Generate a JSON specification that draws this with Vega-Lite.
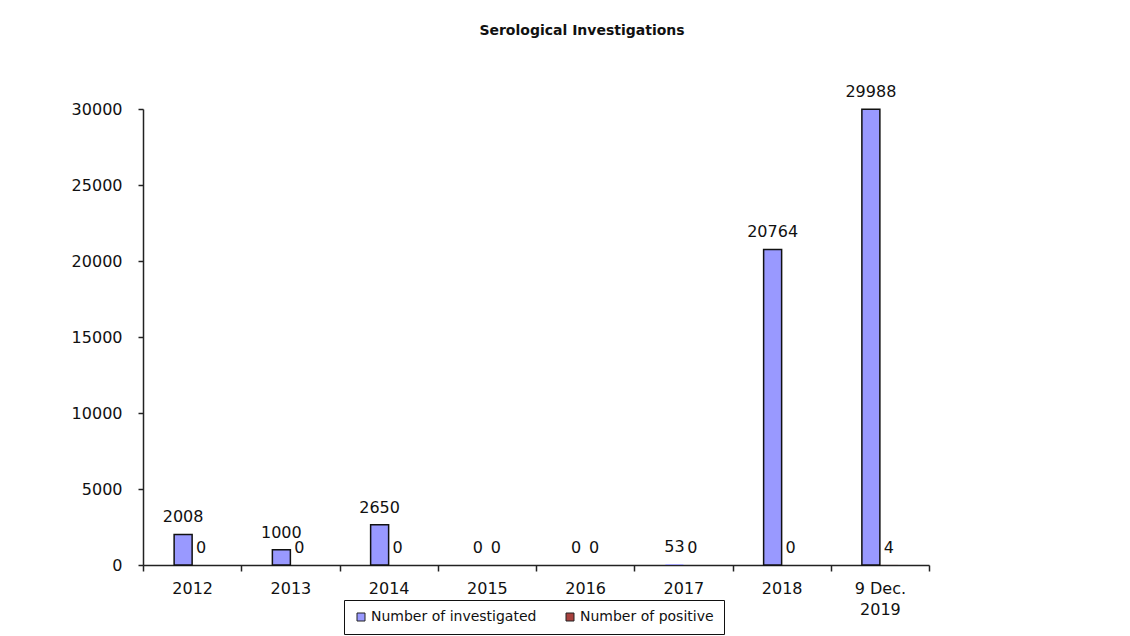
{
  "$schema": "https://vega.github.io/schema/vega-lite/v6.json",
  "autosize": {"type": "none"},
  "padding": {"left": 143, "top": 109, "right": 201, "bottom": 71},
  "width": 786,
  "height": 456,
  "background": "white",
  "config": {"view": {"stroke": null}},
  "title": {
    "text": "Serological Investigations",
    "font": "DejaVu Sans",
    "fontSize": 14,
    "fontWeight": "bold",
    "color": "#111111",
    "anchor": "middle",
    "frame": "group",
    "dx": 46,
    "offset": 46
  },
  "data": {
    "values": [
      {"period": "2012", "series": "Number of investigated", "value": 2008},
      {"period": "2012", "series": "Number of positive", "value": 0},
      {"period": "2013", "series": "Number of investigated", "value": 1000},
      {"period": "2013", "series": "Number of positive", "value": 0},
      {"period": "2014", "series": "Number of investigated", "value": 2650},
      {"period": "2014", "series": "Number of positive", "value": 0},
      {"period": "2015", "series": "Number of investigated", "value": 0},
      {"period": "2015", "series": "Number of positive", "value": 0},
      {"period": "2016", "series": "Number of investigated", "value": 0},
      {"period": "2016", "series": "Number of positive", "value": 0},
      {"period": "2017", "series": "Number of investigated", "value": 53},
      {"period": "2017", "series": "Number of positive", "value": 0},
      {"period": "2018", "series": "Number of investigated", "value": 20764},
      {"period": "2018", "series": "Number of positive", "value": 0},
      {"period": "9 Dec.|2019", "series": "Number of investigated", "value": 29988},
      {"period": "9 Dec.|2019", "series": "Number of positive", "value": 4}
    ]
  },
  "encoding": {
    "x": {
      "field": "period",
      "type": "nominal",
      "sort": null,
      "scale": {"paddingInner": 0, "paddingOuter": 0},
      "axis": {
        "title": null,
        "labelAngle": 0,
        "labelExpr": "split(datum.label, '|')",
        "labelLineHeight": 21,
        "tickBand": "extent",
        "tickSize": 6,
        "labelPadding": 9,
        "labelFont": "DejaVu Sans",
        "labelFontSize": 16,
        "labelColor": "#111111",
        "domainColor": "#222222",
        "tickColor": "#222222",
        "domainWidth": 1.5,
        "tickWidth": 1.5,
        "grid": false
      }
    },
    "xOffset": {
      "field": "series",
      "type": "nominal",
      "scale": {"domain": ["gapL", "Number of investigated", "Number of positive", "gapR"], "paddingInner": 0, "paddingOuter": 0.729}
    },
    "y": {
      "field": "value",
      "type": "quantitative",
      "scale": {"domain": [0, 30000], "nice": false},
      "axis": {
        "title": null,
        "values": [0, 5000, 10000, 15000, 20000, 25000, 30000],
        "format": "d",
        "grid": false,
        "tickSize": 5,
        "labelPadding": 16,
        "labelFont": "DejaVu Sans",
        "labelFontSize": 16,
        "labelColor": "#111111",
        "domainColor": "#222222",
        "tickColor": "#222222",
        "domainWidth": 1.5,
        "tickWidth": 1.5
      }
    }
  },
  "layer": [
    {
      "mark": {"type": "bar", "strokeWidth": 1.5},
      "encoding": {
        "stroke": {"condition": {"test": "datum.value > 100", "value": "#111111"}, "value": null},
        "fill": {
          "field": "series",
          "type": "nominal",
          "scale": {"domain": ["Number of investigated", "Number of positive"], "range": ["#9999FF", "#A8413E"]},
          "legend": {
            "title": null,
            "orient": "none",
            "direction": "horizontal",
            "legendX": 201,
            "legendY": 491,
            "padding": 10,
            "strokeColor": "#111111",
            "symbolType": "square",
            "symbolSize": 64,
            "symbolStrokeColor": "#222222",
            "symbolStrokeWidth": 1,
            "labelFont": "DejaVu Sans",
            "labelFontSize": 14,
            "labelColor": "#111111",
            "labelOffset": 3,
            "columnPadding": 26,
            "labelLimit": 300
          }
        }
      }
    },
    {
      "mark": {"type": "text", "baseline": "alphabetic", "dy": -12, "font": "DejaVu Sans", "fontSize": 16, "color": "#111111"},
      "encoding": {
        "text": {"field": "value", "type": "quantitative", "format": "d"}
      }
    }
  ]
}
